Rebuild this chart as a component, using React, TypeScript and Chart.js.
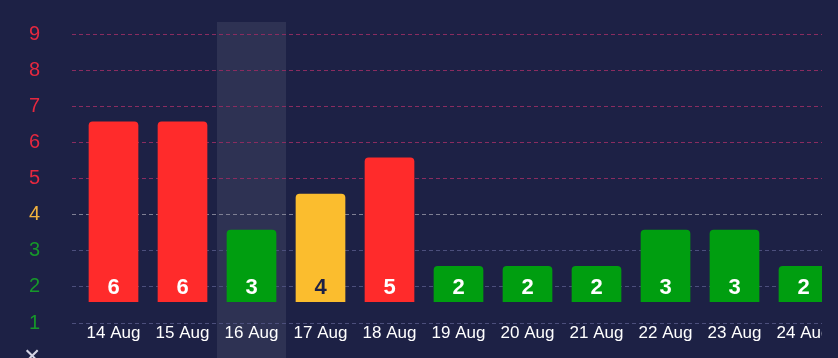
import React, { useEffect, useRef } from 'react';
import { Chart, registerables } from 'chart.js';

Chart.register(...registerables);

const categories = ['14 Aug', '15 Aug', '16 Aug', '17 Aug', '18 Aug', '19 Aug', '20 Aug', '21 Aug', '22 Aug', '23 Aug', '24 Aug'];
const values = [6, 6, 3, 4, 5, 2, 2, 2, 3, 3, 2];
const yMin = 1;
const yMax = 9;
const highlightIndex = 2;

const BG = '#1d2145';
const FONT = "Arial, 'Liberation Sans', Helvetica, sans-serif";

function barColor(v: number) {
  if (v >= 5) return '#ff2b2b';
  if (v === 4) return '#fbbd2e';
  return '#009e10';
}
function tickColor(v: number) {
  if (v >= 5) return '#e5283f';
  if (v === 4) return '#f2b23e';
  return '#16982a';
}
function gridColor(v: number) {
  if (v >= 5) return '#8a2c60';
  if (v === 4) return '#7f8094';
  return '#4c4f7c';
}
function labelColor(v: number) {
  return v === 4 ? BG : '#ffffff';
}

const highlightPlugin = {
  id: 'columnHighlight',
  beforeDraw(chart: any) {
    const x = chart.scales.x;
    const { ctx, chartArea } = chart;
    const w = (chartArea.right - chartArea.left) / categories.length;
    const cx = x.getPixelForValue(highlightIndex);
    ctx.save();
    ctx.fillStyle = 'rgba(255,255,255,0.08)';
    ctx.fillRect(cx - w / 2, chartArea.top - 12, w, chart.height);
    ctx.restore();
  },
};

const valueLabelPlugin = {
  id: 'valueLabels',
  afterDatasetsDraw(chart: any) {
    const { ctx } = chart;
    const meta = chart.getDatasetMeta(0);
    ctx.save();
    ctx.font = `bold 22px ${FONT}`;
    ctx.textAlign = 'center';
    ctx.textBaseline = 'middle';
    meta.data.forEach((bar: any, i: number) => {
      ctx.fillStyle = labelColor(values[i]);
      ctx.fillText(String(values[i]), bar.x, bar.base - 14);
    });
    ctx.restore();
  },
};

export default function App() {
  const ref = useRef<HTMLCanvasElement | null>(null);
  useEffect(() => {
    if (!ref.current) return;
    const chart = new Chart(ref.current, {
      type: 'bar',
      data: {
        labels: categories,
        datasets: [
          {
            data: values,
            base: 1,
            yAxisID: 'yBar',
            backgroundColor: values.map(barColor),
            borderRadius: 4,
            borderSkipped: 'start',
          } as any,
        ],
      },
      options: {
        responsive: false,
        maintainAspectRatio: false,
        animation: false,
        devicePixelRatio: 1,
        layout: { padding: { top: 34, left: 0, right: 0, bottom: 0 } },
        plugins: { legend: { display: false }, tooltip: { enabled: false } },
        scales: {
          x: {
            grid: { display: false, drawTicks: false },
            border: { display: false },
            ticks: {
              color: '#ffffff',
              font: { size: 17, family: FONT },
              padding: 0,
              maxRotation: 0,
              autoSkip: false,
            },
            afterFit: (s: any) => {
              s.height = 35;
            },
          },
          y: {
            position: 'left',
            min: yMin,
            max: yMax,
            ticks: {
              stepSize: 1,
              color: (c: any) => tickColor(c.tick.value),
              font: { size: 20, family: FONT },
              padding: 32,
            },
            grid: {
              color: (c: any) => gridColor(c.tick.value),
              tickLength: 7,
              tickBorderDash: [4, 3],
            },
            border: { display: false, dash: [4, 3] },
            afterFit: (s: any) => {
              s.width = 79;
              s.paddingTop = 0;
              s.paddingBottom = 0;
            },
          },
          yBar: {
            display: false,
            min: 0.42,
            max: 8.42,
          },
        },
      } as any,
      plugins: [highlightPlugin, valueLabelPlugin],
    });
    return () => chart.destroy();
  }, []);

  return (
    <div style={{ position: 'fixed', left: 0, top: 0, width: 838, height: 358, background: BG, overflow: 'hidden' }}>
      <div style={{ position: 'absolute', left: 0, top: 0, width: 822, height: 358, overflow: 'hidden' }}>
        <canvas ref={ref} width={838} height={358} style={{ display: 'block', width: 838, height: 358 }} />
      </div>
      <span
        style={{
          position: 'absolute',
          left: 24,
          top: 340,
          fontFamily: FONT,
          fontSize: 28,
          lineHeight: '32px',
          color: '#d4d5e4',
        }}
      >
        ×
      </span>
    </div>
  );
}
